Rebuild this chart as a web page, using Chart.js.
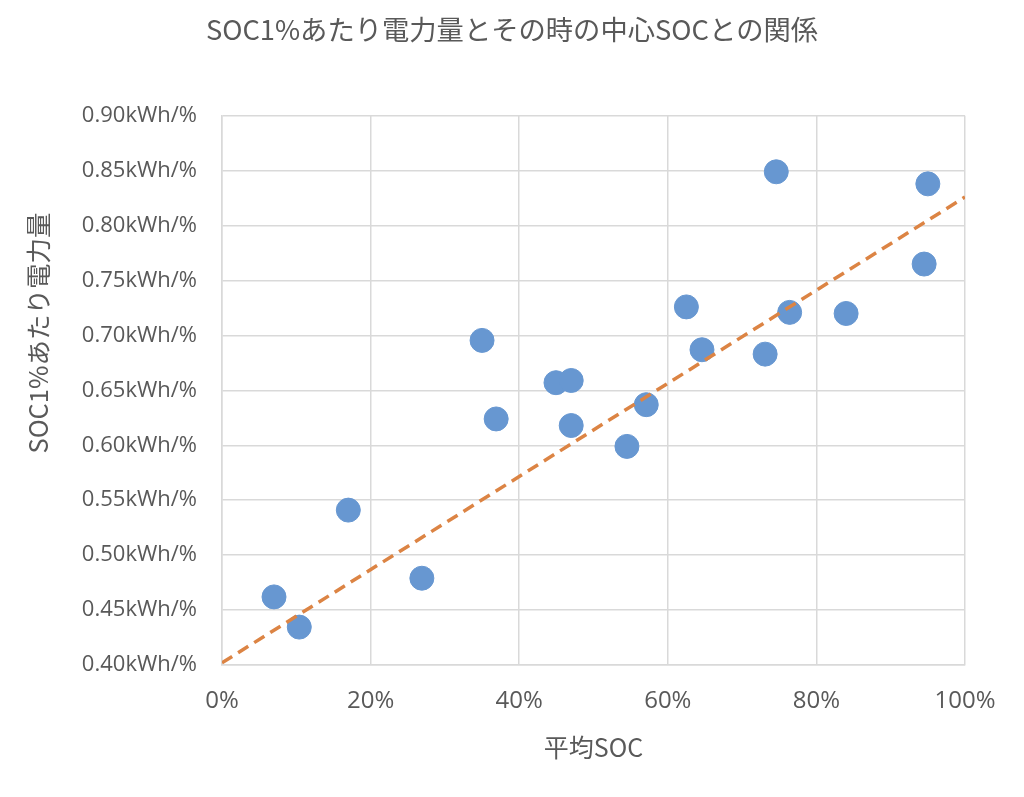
<!DOCTYPE html>
<html>
<head>
<meta charset="utf-8">
<script src="https://cdn.jsdelivr.net/npm/chart.js@4/dist/chart.umd.min.js"></script>
<style>
  html, body { margin: 0; padding: 0; background: #fff; }
</style>
</head>
<body>
<canvas id="myChart" width="1024" height="797"></canvas>
<script>
// 平均SOC (0-1) と SOC1%あたり電力量 (kWh/%)
var socAvg = [0.07, 0.104, 0.17, 0.269, 0.35, 0.369, 0.4495, 0.47, 0.47, 0.545, 0.571, 0.625, 0.646, 0.731, 0.746, 0.764, 0.84, 0.945, 0.95];
var kwhPerPct = [0.462, 0.4345, 0.541, 0.479, 0.6955, 0.624, 0.657, 0.659, 0.618, 0.599, 0.637, 0.726, 0.687, 0.683, 0.849, 0.721, 0.72, 0.765, 0.838];
// 線形近似 (端点)
var trendX = [0, 1];
var trendY = [0.402, 0.826];

var textColor = '#595959';
var gridColor = '#d9d9d9';
var jpFont = '"Noto Sans CJK JP", "Noto Sans", sans-serif';
var yTitle = 'SOC1%あたり電力量';

var points = [];
for (var i = 0; i < socAvg.length; i++) {
    points.push({x: socAvg[i], y: kwhPerPct[i]});
}
var trend = [];
for (var j = 0; j < trendX.length; j++) {
    trend.push({x: trendX[j], y: trendY[j]});
}

// 縦軸タイトル (Excel と同じく少し上寄せ)
var yTitlePlugin = {
    id: 'yTitle',
    afterDraw: function (chart) {
        var c = chart.ctx;
        c.save();
        c.translate(38, 333);
        c.rotate(-Math.PI / 2);
        c.fillStyle = textColor;
        c.font = '25.5px ' + jpFont;
        c.textAlign = 'center';
        c.textBaseline = 'middle';
        c.fillText(yTitle, 0, 0);
        c.restore();
    }
};

var ctx = document.getElementById('myChart');
var myChart = new Chart(ctx, {
    type: 'scatter',
    data: {
        datasets: [
            {
                label: 'SOC1%あたり電力量',
                data: points,
                backgroundColor: '#6797d1',
                borderColor: '#6797d1',
                pointRadius: 12,
                pointHoverRadius: 12,
                order: 2
            },
            {
                label: '線形近似',
                type: 'line',
                data: trend,
                borderColor: '#dc8444',
                borderWidth: 3.5,
                borderDash: [12, 7],
                pointRadius: 0,
                fill: false,
                order: 1
            }
        ]
    },
    options: {
        responsive: false,
        animation: false,
        layout: {
            padding: {left: 59, right: 59, top: 0, bottom: 20}
        },
        plugins: {
            legend: {display: false},
            tooltip: {enabled: false},
            title: {
                display: true,
                text: 'SOC1%あたり電力量とその時の中心SOCとの関係',
                color: textColor,
                font: {family: jpFont, size: 27.3, weight: 'normal'},
                padding: {top: 13, bottom: 70}
            }
        },
        scales: {
            x: {
                type: 'linear',
                min: 0,
                max: 1,
                ticks: {
                    stepSize: 0.2,
                    color: textColor,
                    font: {family: '"Open Sans", sans-serif', size: 24},
                    padding: 22,
                    callback: function (v) { return Math.round(v * 100) + '%'; }
                },
                grid: {color: gridColor, lineWidth: 1.5, drawTicks: false},
                border: {color: gridColor, width: 1.5},
                title: {
                    display: true,
                    text: '平均SOC',
                    color: textColor,
                    font: {family: jpFont, size: 25, weight: 'normal'},
                    padding: {top: 4, bottom: 15}
                },
                afterFit: function (scale) { scale.height = 797 - 665 - 20; }
            },
            y: {
                type: 'linear',
                min: 0.4,
                max: 0.9,
                ticks: {
                    stepSize: 0.05,
                    color: textColor,
                    font: {family: '"Open Sans", sans-serif', size: 22},
                    padding: 25,
                    callback: function (v) { return v.toFixed(2) + 'kWh/%'; }
                },
                grid: {color: gridColor, lineWidth: 1.5, drawTicks: false},
                border: {color: gridColor, width: 1.5},
                afterFit: function (scale) { scale.width = 222 - 59; }
            }
        }
    },
    plugins: [yTitlePlugin]
});
</script>
</body>
</html>
